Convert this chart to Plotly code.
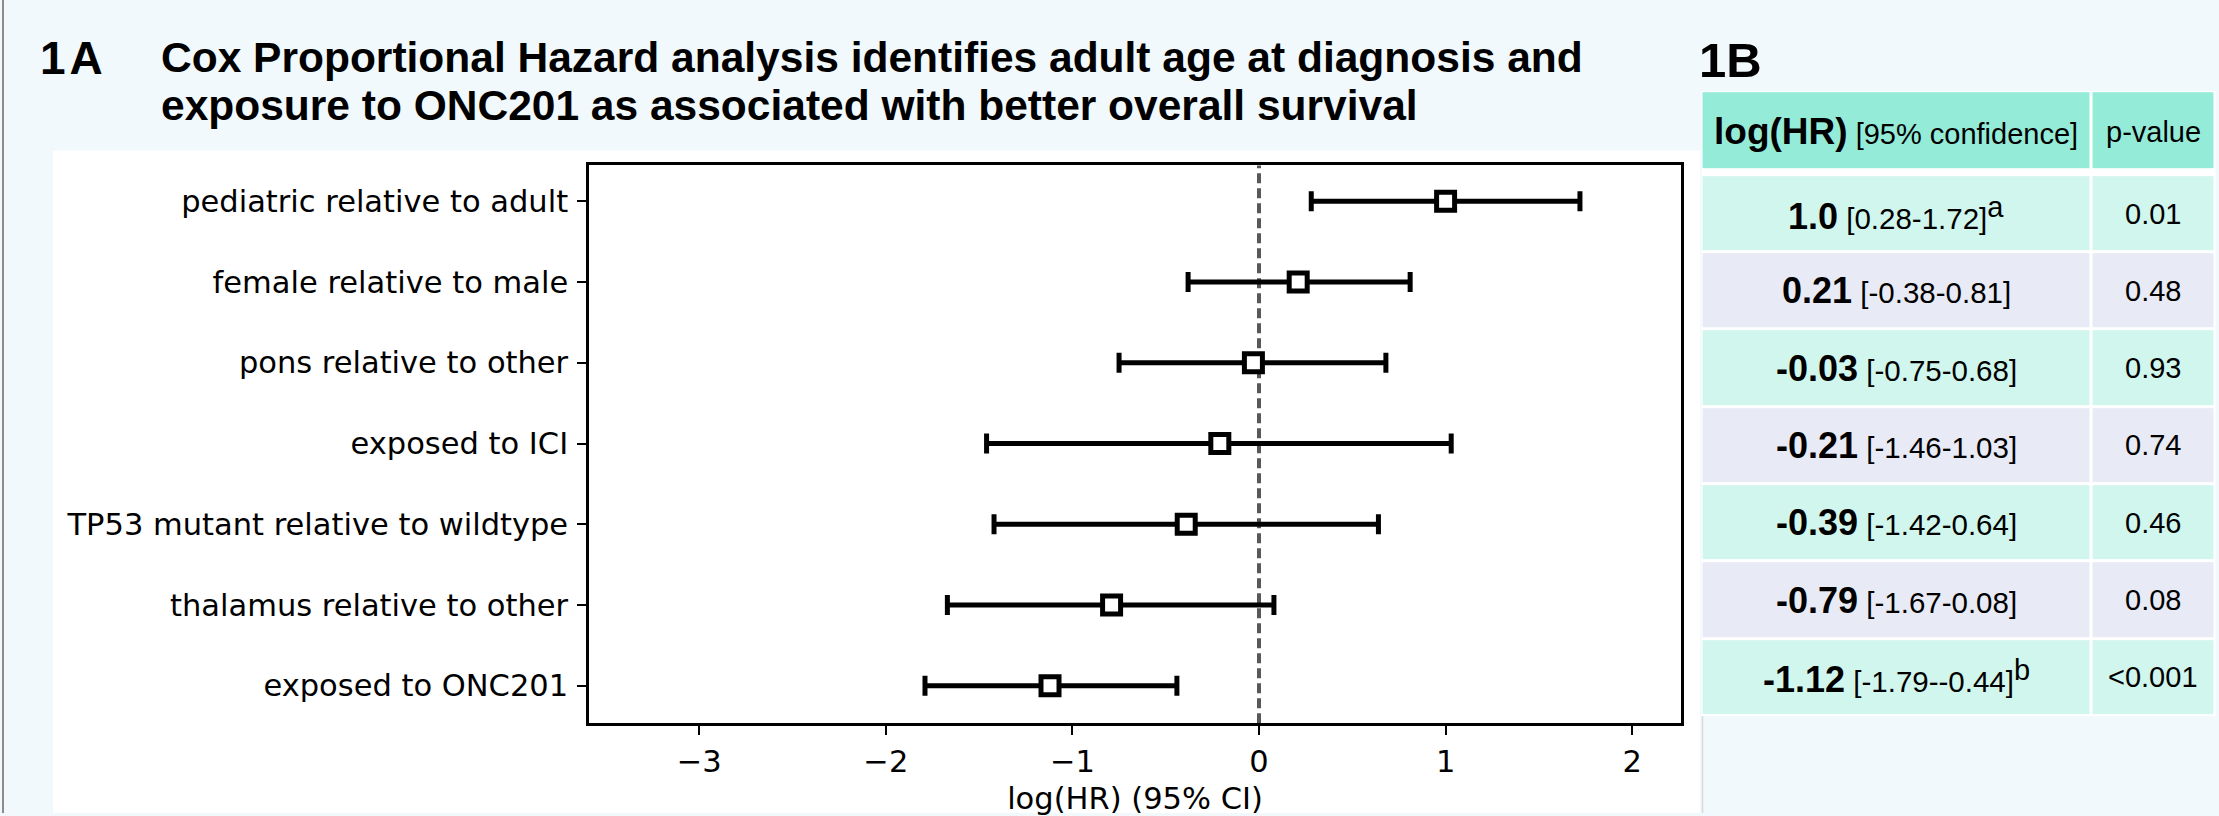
import plotly.graph_objects as go

# ---------------- data ----------------
labels = [
    "pediatric relative to adult",
    "female relative to male",
    "pons relative to other",
    "exposed to ICI",
    "TP53 mutant relative to wildtype",
    "thalamus relative to other",
    "exposed to ONC201",
]
log_hr = [1.0, 0.21, -0.03, -0.21, -0.39, -0.79, -1.12]
ci_low = [0.28, -0.38, -0.75, -1.46, -1.42, -1.67, -1.79]
ci_high = [1.72, 0.81, 0.68, 1.03, 0.64, 0.08, -0.44]
p_values = ["0.01", "0.48", "0.93", "0.74", "0.46", "0.08", "&lt;0.001"]
footnotes = ["a", "", "", "", "", "", "b"]
x_ticks = [-3, -2, -1, 0, 1, 2]
x_ticktext = ["\u22123", "\u22122", "\u22121", "0", "1", "2"]

# ---------------- geometry / style ----------------
W, H = 2219, 816
BG = "#F1F9FC"
HEADER_C = "#94ECD8"
MINT_C = "#D1F6ED"
LAV_C = "#E8EAF5"
ARIAL = "Liberation Sans, Arial, sans-serif"
DEJAVU = "DejaVu Sans"
CHART_FS = 30.5


def px_x(v):
    return v / W


def px_y(v):
    return 1 - v / H


err_plus = [h - e for h, e in zip(ci_high, log_hr)]
err_minus = [e - l for e, l in zip(log_hr, ci_low)]

fig = go.Figure()

fig.add_trace(go.Scatter(
    x=log_hr, y=labels, mode="markers",
    marker=dict(symbol="square", size=18, color="white",
                line=dict(color="black", width=5)),
    error_x=dict(type="data", symmetric=False, array=err_plus,
                 arrayminus=err_minus, color="black", thickness=5, width=10),
    showlegend=False, hoverinfo="skip",
    xaxis="x", yaxis="y",
))

# ---------------- table as heatmap ----------------
T_LEFT, T_MID, T_RIGHT = 1701.5, 2091.0, 2215.5
HEAD_TOP, HEAD_BOT = 91.5, 170.5
ROW_TOP = 175.5
PITCH = 77.6
n = len(labels)
y_edges = [HEAD_TOP, HEAD_BOT, ROW_TOP] + [ROW_TOP + PITCH * (i + 1) for i in range(n)]
z = [[0, 0], [None, None]] + [[1, 1] if i % 2 == 0 else [2, 2] for i in range(n)]

fig.add_trace(go.Heatmap(
    x=[T_LEFT, T_MID, T_RIGHT], y=y_edges, z=z,
    zmin=0, zmax=2,
    colorscale=[[0, HEADER_C], [0.5, MINT_C], [1, LAV_C]],
    xgap=3, ygap=3, showscale=False, hoverinfo="skip",
    xaxis="x2", yaxis="y2",
))

annotations = []
c1 = (T_LEFT + T_MID) / 2
c2 = (T_MID + T_RIGHT) / 2
hy = (HEAD_TOP + HEAD_BOT) / 2
annotations.append(dict(
    xref="x2", yref="y2", x=c1, y=hy + 1, xanchor="center", yanchor="middle",
    text="<span style='font-size:37px;font-weight:bold'>log(HR)</span> [95% confidence]",
    showarrow=False, font=dict(family=ARIAL, size=29, color="black")))
annotations.append(dict(
    xref="x2", yref="y2", x=c2, y=hy + 1, xanchor="center", yanchor="middle",
    text="p-value", showarrow=False, font=dict(family=ARIAL, size=29, color="black")))

for i in range(n):
    cy = ROW_TOP + PITCH * (i + 0.5)
    sup = ""
    if footnotes[i]:
        sup = "<sup><span style='font-size:29px'>%s</span></sup>" % footnotes[i]
    txt = ("<span style='font-size:36px;font-weight:bold'>%s</span> [%s-%s]%s"
           % (log_hr[i], ci_low[i], ci_high[i], sup))
    annotations.append(dict(
        xref="x2", yref="y2", x=c1, y=cy, xanchor="center", yanchor="middle",
        text=txt, showarrow=False, font=dict(family=ARIAL, size=29.5, color="black")))
    annotations.append(dict(
        xref="x2", yref="y2", x=c2, y=cy, xanchor="center", yanchor="middle",
        text=p_values[i], showarrow=False, font=dict(family=ARIAL, size=29, color="black")))

# ---------------- titles ----------------
annotations += [
    dict(xref="paper", yref="paper", x=px_x(38), y=px_y(58), xanchor="left", yanchor="middle",
         text="<b>1\u200aA</b>", showarrow=False, font=dict(family=ARIAL, size=46, color="black")),
    dict(xref="paper", yref="paper", x=px_x(159), y=px_y(58), xanchor="left", yanchor="middle",
         text="<b>Cox Proportional Hazard analysis identifies adult age at diagnosis and</b>",
         showarrow=False, font=dict(family=ARIAL, size=42.5, color="black")),
    dict(xref="paper", yref="paper", x=px_x(159), y=px_y(106), xanchor="left", yanchor="middle",
         text="<b>exposure to ONC201 as associated with better overall survival</b>",
         showarrow=False, font=dict(family=ARIAL, size=42.5, color="black")),
    dict(xref="paper", yref="paper", x=px_x(1697), y=px_y(60), xanchor="left", yanchor="middle",
         text="<b>1B</b>", showarrow=False, font=dict(family=ARIAL, size=49, color="black")),
]

shapes = [
    # white panel behind the forest plot
    dict(type="rect", xref="paper", yref="paper", x0=px_x(53), x1=px_x(1700),
         y0=0, y1=px_y(151), fillcolor="white", line=dict(width=0), layer="below"),
    # page left border
    dict(type="line", xref="paper", yref="paper", x0=px_x(3), x1=px_x(3), y0=0, y1=1,
         line=dict(color="#8C8C8C", width=2), layer="below"),
    # faint line below table
    dict(type="line", xref="paper", yref="paper", x0=px_x(1702.5), x1=px_x(1702.5),
         y0=0, y1=px_y(719), line=dict(color="#DADADA", width=1.5), layer="below"),
    # null line
    dict(type="line", xref="x", yref="y domain", x0=0, x1=0, y0=0, y1=1,
         line=dict(color="#585858", width=4, dash="10px,5px"), layer="below"),
]

fig.update_layout(
    width=W, height=H,
    margin=dict(l=0, r=0, t=0, b=0),
    paper_bgcolor=BG, plot_bgcolor="white",
    font=dict(family=DEJAVU, size=CHART_FS, color="black"),
    showlegend=False,
    xaxis=dict(
        domain=[px_x(589), px_x(1681)], range=[-3.5906, 2.2615],
        tickmode="array", tickvals=x_ticks, ticktext=x_ticktext,
        ticks="outside", ticklen=9, tickwidth=2, tickcolor="black",
        showline=True, mirror=True, linewidth=2.5, linecolor="black",
        showgrid=False, zeroline=False,
        tickfont=dict(family=DEJAVU, size=CHART_FS, color="black"),
        title=dict(text="log(HR) (95% CI)", standoff=16,
                   font=dict(family=DEJAVU, size=CHART_FS, color="black")),
        fixedrange=True,
    ),
    yaxis=dict(
        domain=[px_y(726), px_y(166)],
        type="category", categoryorder="array", categoryarray=labels,
        range=[6.465, -0.444],
        ticks="outside", ticklen=9, tickwidth=2, tickcolor="black",
        ticklabelstandoff=3,
        showline=True, mirror=True, linewidth=2.5, linecolor="black",
        showgrid=False, zeroline=False,
        tickfont=dict(family=DEJAVU, size=CHART_FS, color="black"),
        fixedrange=True,
    ),
    xaxis2=dict(domain=[px_x(T_LEFT), px_x(T_RIGHT)], range=[T_LEFT, T_RIGHT],
                visible=False, fixedrange=True, anchor="y2"),
    yaxis2=dict(domain=[px_y(y_edges[-1]), px_y(HEAD_TOP)], range=[y_edges[-1], HEAD_TOP],
                visible=False, fixedrange=True, anchor="x2"),
    annotations=annotations,
    shapes=shapes,
)

fig.write_html(
    "out.html",
    config={"displayModeBar": False},
    post_script="document.body.style.margin='0px';"
                "document.body.style.overflow='hidden';"
                "document.body.style.background='%s';" % BG,
)
